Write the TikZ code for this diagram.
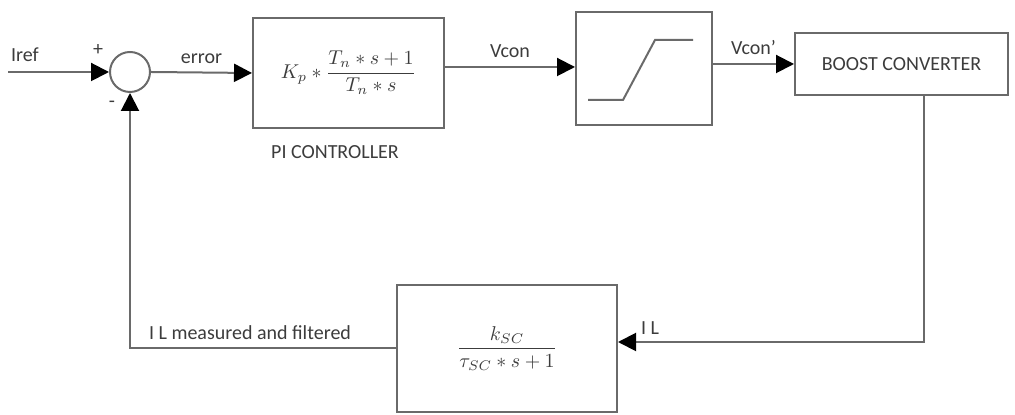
\documentclass[tikz,border=0pt]{standalone}
\usepackage{fontspec}
\setmainfont{Carlito}
\usetikzlibrary{arrows.meta,positioning}

\definecolor{linegray}{HTML}{6A6A6A}
\definecolor{txtgray}{HTML}{3C3C3C}

\begin{document}
\begin{tikzpicture}[x=0.5pt, y=-0.5pt,
  box/.style={draw=linegray, line width=1pt, align=center, inner sep=0pt,
              font=\fontsize{10}{12}\selectfont, text=txtgray},
  sumnode/.style={draw=linegray, line width=1pt, circle, minimum size=20pt, inner sep=0pt},
  lbl/.style={font=\fontsize{10}{12}\selectfont, text=txtgray, inner sep=1pt},
  arr/.style={-{Triangle[length=9pt,width=9pt,black]}, line width=1pt, draw=linegray}
]
\useasboundingbox (0,0) rectangle (1015,415);

% blocks on fixed coordinates
\node[sumnode] (sum) at (130,72) {};
\node[box, minimum width=95.5pt, minimum height=55pt] (pi) at (348.5,73)
  {$\displaystyle K_p \ast \frac{T_n \ast s + 1}{T_n \ast s}$};
\node[box, minimum width=68pt, minimum height=56.5pt] (sat) at (644,68.5) {};
\node[box, minimum width=106.5pt, minimum height=31pt] (boost) at (901.5,64) {BOOST CONVERTER};
\node[box, minimum width=110pt, minimum height=63.5pt] (filt) at (507,348.5)
  {$\displaystyle \frac{k_{SC}}{\tau_{SC} \ast s + 1}$};

% saturation curve
\draw[linegray, line width=1pt] (588,100) -- (623,100) -- (655,40) -- (693,40);

\coordinate (in) at (8,72);
\coordinate (bodown) at ([xshift=11.25pt]boost.south);
\coordinate (ilin) at ([yshift=3.25pt]filt.east);

\node[lbl] (iref) at (25,55) {Iref};
\node[lbl] (plus) at (98,50) {+};
\node[lbl] (minus) at (112,104) {-};
\node[lbl] (pilbl) at (335,152) {PI CONTROLLER};
\node[lbl] (illbl) at (650,328) {I L};
\node[lbl] (fblbl) at (250,333) {I L measured and filtered};

\draw[arr] (in) -- (sum.west);
\draw[arr] (sum.east) -- node[lbl, above=3pt] {error} (pi.west);
\draw[arr] ([yshift=3pt]pi.east) -- node[lbl, above=3pt] {Vcon} ([yshift=0.75pt]sat.west);
\draw[arr] (sat.east |- boost.west) -- node[lbl, above=3pt] {Vcon'} (boost.west);
\draw[arr] (bodown) |- (ilin);
\draw[arr] (filt.west) -| (sum.south);
\end{tikzpicture}
\end{document}
